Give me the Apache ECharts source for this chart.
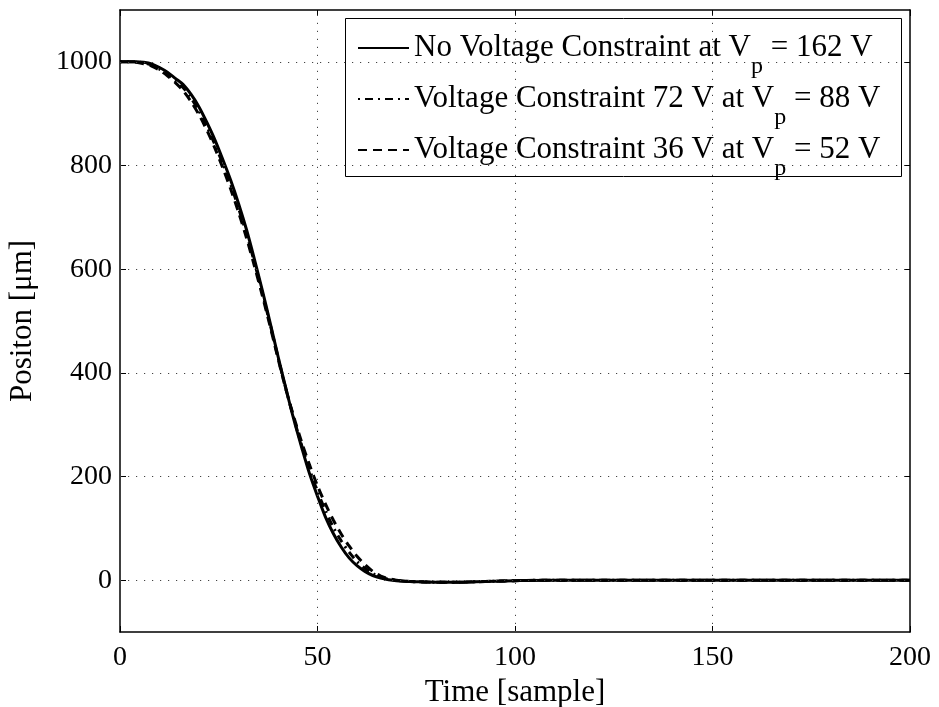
<!DOCTYPE html>
<html>
<head>
<meta charset="utf-8">
<script src="https://cdn.jsdelivr.net/npm/echarts@6/dist/echarts.min.js"></script>
<style>html,body{margin:0;padding:0;background:#fff}#c{width:939px;height:707px}</style>
</head>
<body>
<div id="c"></div>
<script>
// ---- data ----
var samples = [0,2,4,6,8,10,12,14,16,18,20,22,24,26,28,30,32,34,36,38,40,42,44,46,48,50,52,54,56,58,60,62,64,66,68,70,72,75,80,85,90,95,100,110,120,130,140,150,160,170,180,190,200];
var noConstraint = [1000,1000,1000,999,996,989,980,968,956,937,913,883,850,812,772,727,677,620,560,497,432,370,310,256,205,162,122,90,64,43,28,17,9,4,1,-1,-2,-3,-4,-4,-3,-2,-1,0,0,0,0,0,0,0,0,0,0];
var constraint72 = [1000,1000,1000,998,994,986,976,964,950,930,905,875,841,804,764,718,669,614,555,494,430,369,312,260,213,171,134,102,76,54,36,23,13,6,2,0,-2,-3,-4,-4,-3,-2,-1,0,0,0,0,0,0,0,0,0,0];
var constraint36 = [1000,1000,999,996,992,984,973,960,944,923,898,868,834,796,755,710,661,607,550,490,428,368,315,266,222,182,147,116,89,66,46,30,17,8,3,0,-2,-3,-4,-4,-3,-2,-1,0,0,0,0,0,0,0,0,0,0];
var seriesNames = ['No Voltage Constraint at V{s|p} = 162 V','Voltage Constraint 72 V at V{s|p} = 88 V','Voltage Constraint 36 V at V{s|p} = 52 V'];
var xTicks = [0,50,100,150,200];
var yTicks = [0,200,400,600,800,1000];
var xGrid = [50,100,150];

function pairs(v){ return samples.map(function(t,i){ return [t, v[i]]; }); }

var font = 'Liberation Serif';
var chart = echarts.init(document.getElementById('c'), null, {renderer:'canvas'});
var gridLines = [];
yTicks.forEach(function(v){ gridLines.push({yAxis: v}); });
xGrid.forEach(function(v){ gridLines.push({xAxis: v}); });
function plain(v){ return String(v); }
var axisLineStyle = {show: true, onZero: false, lineStyle: {color: '#000', width: 1.5}};
var tickStyle = {color: '#000', width: 1};

var option = {
  animation: false,
  backgroundColor: '#fff',
  grid: {left: 120, right: 29, top: 10, bottom: 75, containLabel: false, outerBoundsMode: 'none'},
  xAxis: [{
    type: 'value', min: 0, max: 200, interval: 50,
    name: 'Time [sample]', nameLocation: 'middle', nameGap: 41,
    nameTextStyle: {fontFamily: font, fontSize: 31, color: '#000'},
    axisLine: axisLineStyle,
    axisTick: {show: true, inside: true, length: 6, lineStyle: tickStyle},
    axisLabel: {fontFamily: font, fontSize: 28, color: '#000', margin: 12, formatter: plain},
    splitLine: {show: false}
  },{
    type: 'value', min: 0, max: 200, interval: 50, position: 'top',
    axisLine: axisLineStyle,
    axisTick: {show: true, inside: true, length: 6, lineStyle: tickStyle},
    axisLabel: {show: false}, splitLine: {show: false}
  }],
  yAxis: [{
    type: 'value', min: -100, max: 1100,
    name: 'Positon [\u03bcm]', nameLocation: 'middle', nameGap: 82,
    nameTextStyle: {fontFamily: font, fontSize: 31, color: '#000'},
    axisLine: axisLineStyle,
    axisTick: {show: true, inside: true, length: 6, customValues: yTicks, lineStyle: tickStyle},
    axisLabel: {fontFamily: font, fontSize: 28, color: '#000', margin: 8, customValues: yTicks, formatter: plain},
    splitLine: {show: false}
  },{
    type: 'value', min: -100, max: 1100, position: 'right',
    axisLine: axisLineStyle,
    axisTick: {show: true, inside: true, length: 6, customValues: yTicks, lineStyle: tickStyle},
    axisLabel: {show: false}, splitLine: {show: false}
  }],
  graphic: [{
    type: 'rect', z: 3, silent: true,
    shape: {x: 345.5, y: 18.5, width: 556, height: 158},
    style: {fill: '#fff', stroke: '#000', lineWidth: 1}
  }],
  legend: {
    orient: 'vertical', left: 345, top: 0, z: 4,
    backgroundColor: 'transparent', borderWidth: 0,
    padding: [17, 0, 0, 12],
    itemWidth: 51, itemHeight: 14, itemGap: -11,
    itemStyle: {opacity: 0},
    textStyle: {fontFamily: font, fontSize: 31, color: '#000', lineHeight: 34,
      rich: {s: {fontFamily: font, fontSize: 24, color: '#000', padding: [38, 0, 0, 0], lineHeight: 4}}},
    data: seriesNames
  },
  series: [{
    name: seriesNames[2], type: 'line', data: pairs(constraint36), symbol: 'none', showSymbol: false, smooth: 0.3,
    itemStyle: {color: '#000'},
    lineStyle: {color: '#000', width: 3, type: [9, 6]}, z: 2,
    markLine: {silent: true, symbol: 'none', label: {show: false},
      lineStyle: {color: '#444', width: 1, type: [1.2, 6.8]}, data: gridLines}
  },{
    name: seriesNames[1], type: 'line', data: pairs(constraint72), symbol: 'none', showSymbol: false, smooth: 0.3,
    itemStyle: {color: '#000'},
    lineStyle: {color: '#000', width: 3, type: [2, 5, 8, 5]}, z: 2
  },{
    name: seriesNames[0], type: 'line', data: pairs(noConstraint), symbol: 'none', showSymbol: false, smooth: 0.3,
    itemStyle: {color: '#000'},
    lineStyle: {color: '#000', width: 3, type: 'solid'}, z: 2
  }]
};
chart.setOption(option);
</script>
</body>
</html>
